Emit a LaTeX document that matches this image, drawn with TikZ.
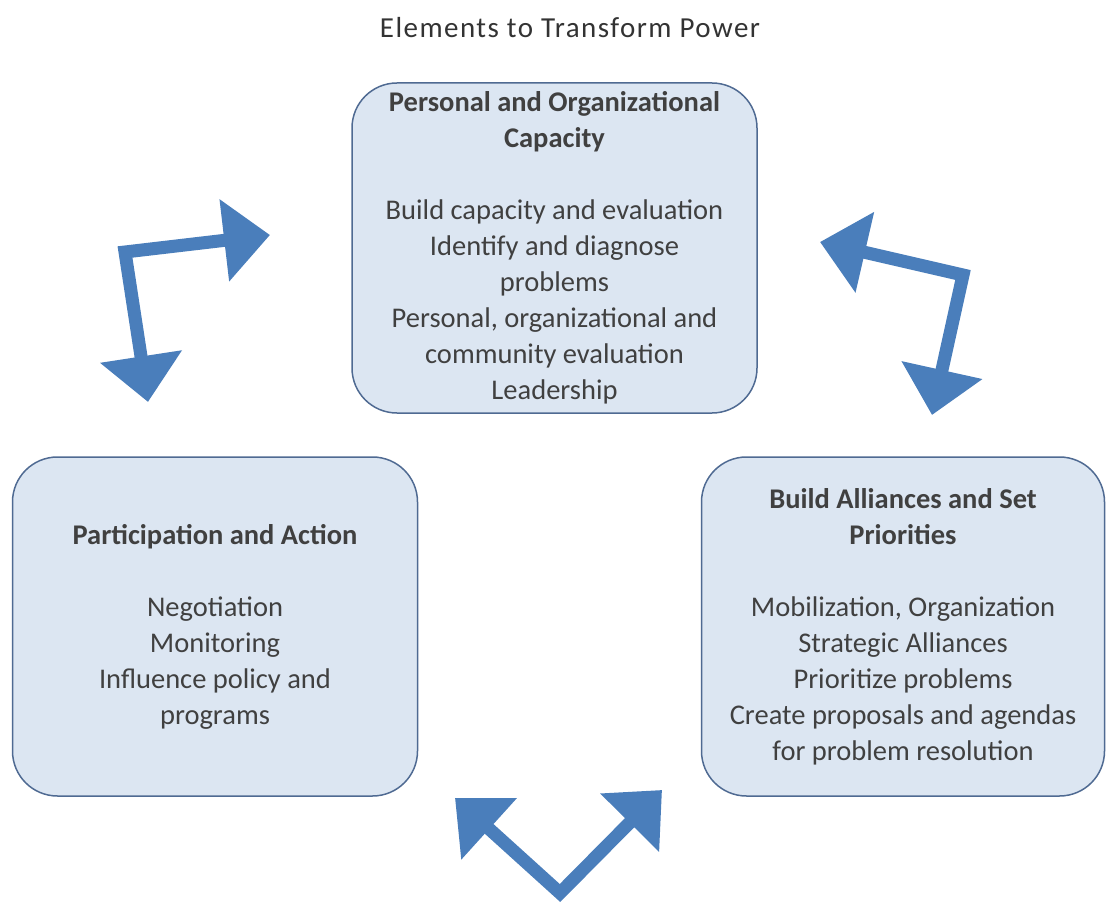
\documentclass[tikz,border=0pt]{standalone}
\usepackage{fontspec}
\setmainfont{Carlito}
\usetikzlibrary{arrows.meta,positioning}

\definecolor{arrowblue}{HTML}{4A7EBB}
\definecolor{boxfill}{HTML}{DCE6F2}
\definecolor{boxline}{HTML}{4F6A92}

\tikzset{
  elembox/.style={draw=boxline, line width=1.5pt, fill=boxfill, rounded corners=45pt,
    minimum width=405pt, minimum height=334pt, align=center, text=black!75,
    font=\fontsize{28.5}{36}\selectfont},
  twoway/.style={draw=arrowblue, line width=13pt, line join=miter,
    {Triangle[length=46pt,width=80pt]}-{Triangle[length=46pt,width=80pt]}}
}

\begin{document}
\begin{tikzpicture}[x=1pt, y=-1pt]
    \useasboundingbox (0,0) rectangle (1106,904);

    % Title
    \node[font=\fontsize{29}{32}\selectfont\addfontfeatures{LetterSpace=5}, text=black!80] (title) at (570,28) {Elements to Transform Power};

    % Three boxes
    \node[elembox, minimum height=330pt] (capacity) at (554.5,248)
      {\textbf{Personal and Organizational}\\\textbf{Capacity}\\[36pt]
       Build capacity and evaluation\\Identify and diagnose\\problems\\
       Personal, organizational and\\community evaluation\\Leadership};
    \node[elembox, minimum height=339pt] (action) at (215,626.5)
      {\textbf{Participation and Action}\\[36pt]
       Negotiation\\Monitoring\\Influence policy and\\programs};
    \node[elembox, minimum width=403pt, minimum height=339pt] (alliances) at (903,626.5)
      {\textbf{Build Alliances and Set}\\\textbf{Priorities}\\[36pt]
       Mobilization, Organization\\Strategic Alliances\\Prioritize problems\\
       Create proposals and agendas\\for problem resolution};

    % Arrow ends and corners
    \coordinate (tlA) at (270,235);
    \coordinate (tlC) at (125,252);
    \coordinate (tlB) at (148,402);
    \coordinate (trA) at (820,242);
    \coordinate (trC) at (963,275);
    \coordinate (trB) at (932,415);
    \coordinate (btA) at (455,798);
    \coordinate (btC) at (560,893);
    \coordinate (btB) at (662,790);

    % Arrows
    \draw[twoway] (tlA) -- (tlC) -- (tlB);
    \draw[twoway] (trA) -- (trC) -- (trB);
    \draw[twoway] (btA) -- (btC) -- (btB);
\end{tikzpicture}
\end{document}
